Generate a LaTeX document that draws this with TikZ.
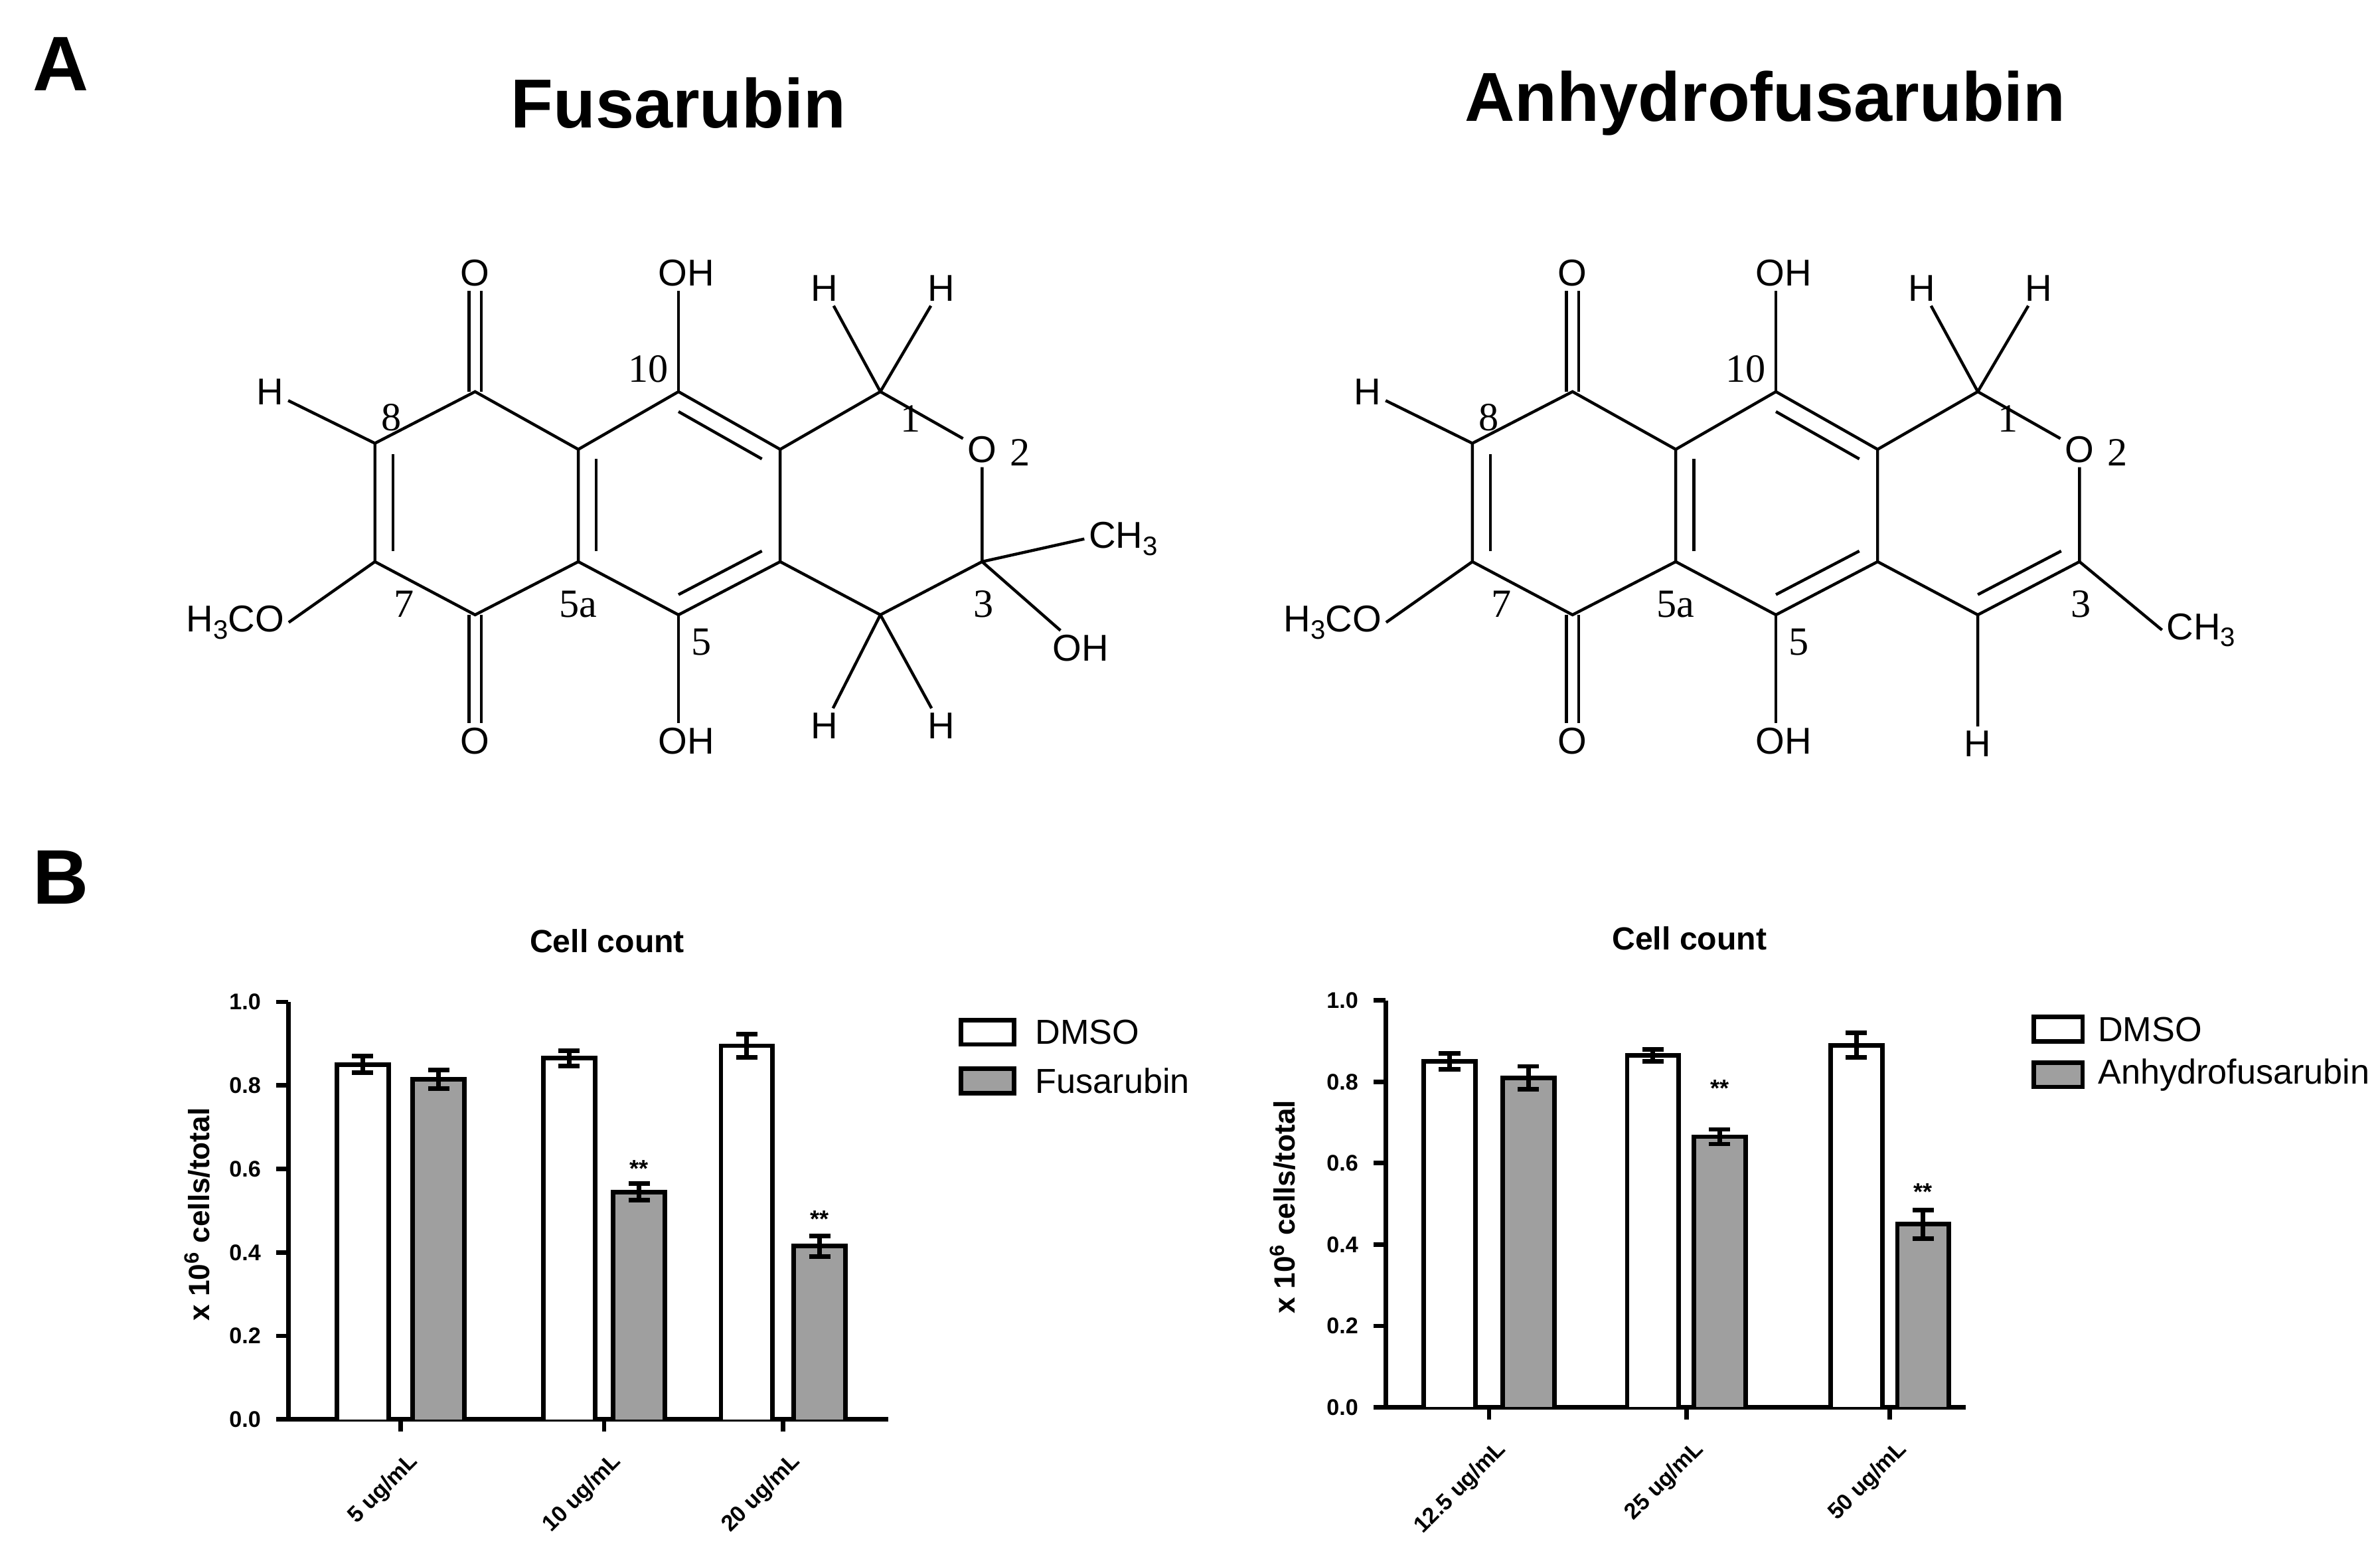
\documentclass[tikz,border=0pt]{standalone}
\usepackage{fontspec}
\setmainfont{Liberation Sans}
\newfontfamily\numf{Liberation Serif}
\usetikzlibrary{calc}
\newcommand\sub[1]{\raisebox{-0.35ex}{\fontsize{10}{10}\selectfont #1}}
\tikzset{
 bond/.style={line width=1.1pt},
 atom/.style={inner sep=1.5pt,font=\fontsize{14}{14}\selectfont},
 num/.style={inner sep=0pt,font=\numf\fontsize{15}{15}\selectfont},
 bar/.style={line width=1.7pt,draw=black},
 axis/.style={line width=1.7pt},
 tick/.style={font=\bfseries\fontsize{8.5}{8.5}\selectfont},
 leg/.style={anchor=west,font=\fontsize{13}{13}\selectfont},
}
\newcommand\chemcore[1]{%
 \coordinate (#1a1) at (313,258); \coordinate (#1a2) at (381,296); \coordinate (#1a3) at (381,370);
 \coordinate (#1a4) at (313,405); \coordinate (#1a5) at (247,370); \coordinate (#1a6) at (247,292);
 \coordinate (#1b1) at (447,258); \coordinate (#1b2) at (514,296); \coordinate (#1b3) at (514,370);
 \coordinate (#1b4) at (447,405);
 \coordinate (#1c1) at (580,258); \coordinate (#1c3) at (647,370); \coordinate (#1c4) at (580,405);
 \coordinate (#1ca) at (313,331); \coordinate (#1cb) at (447,331); \coordinate (#1cc) at (580,331);
 \node[atom] (#1o1) at (313,180) {O}; \node[atom] (#1o4) at (313,488) {O};
 \node[atom] (#1oh1) at (452,180) {OH}; \node[atom] (#1oh4) at (452,488) {OH};
 \node[atom] (#1o2) at (647,296) {O};
 \node[atom] (#1h8) at (178,258) {H};
 \node[atom] (#1meo) at (155,410) {H\sub{3}CO};
 \node[atom] (#1h1a) at (543,190) {H}; \node[atom] (#1h1b) at (620,190) {H};
 \draw[bond] (#1a1)--(#1a2)--(#1a3)--(#1a4)--(#1a5)--(#1a6)--cycle;
 \draw[bond] (#1a2)--(#1b1)--(#1b2)--(#1b3)--(#1b4)--(#1a3);
 \draw[bond] (#1b2)--(#1c1)--(#1o2)--(#1c3)--(#1c4)--(#1b3);
 \draw[bond] ($(#1a5)!0.18!(#1ca)$)--($(#1a6)!0.18!(#1ca)$);
 \draw[bond] ($(#1a2)!0.18!(#1cb)$)--($(#1a3)!0.18!(#1cb)$);
 \draw[bond] ($(#1b1)!0.18!(#1cb)$)--($(#1b2)!0.18!(#1cb)$);
 \draw[bond] ($(#1b3)!0.18!(#1cb)$)--($(#1b4)!0.18!(#1cb)$);
 \draw[bond] ($(#1a1)+(-4,0)$)--($(#1o1.south)+(-4,0)$) ($(#1a1)+(4,0)$)--($(#1o1.south)+(4,0)$);
 \draw[bond] ($(#1a4)+(-4,0)$)--($(#1o4.north)+(-4,0)$) ($(#1a4)+(4,0)$)--($(#1o4.north)+(4,0)$);
 \draw[bond] (#1b1)--(#1b1|-#1oh1.south) (#1b4)--(#1b4|-#1oh4.north);
 \draw[bond] (#1a6)--(#1h8) (#1a5)--(#1meo.east);
 \draw[bond] (#1c1)--(#1h1a) (#1c1)--(#1h1b);
 \node[num] at (258,275) {8}; \node[num] at (266,398) {7};
 \node[num] at (381,398) {5a}; \node[num] at (427,243) {10};
 \node[num] at (462,423) {5}; \node[num] at (600,276) {1};
 \node[num] at (672,298) {2}; \node[num] at (648,398) {3};
}
\begin{document}
\begin{tikzpicture}[x=0.02cm,y=-0.02cm]
\useasboundingbox (0,0) rectangle (1568,1028);
\node[font=\bfseries\fontsize{29}{29}\selectfont] at (40,42) {A};
\node[font=\bfseries\fontsize{29}{29}\selectfont] at (40,578) {B};
\node[font=\bfseries\fontsize{26}{26}\selectfont] at (447,68) {Fusarubin};
\node[font=\bfseries\fontsize{26}{26}\selectfont] at (1163,68) {Anhydrofusarubin};
\begin{scope}
\chemcore{L}
\node[atom] (Lme) at (740,355) {CH\sub{3}};
\node[atom] (Loh3) at (712,427) {OH};
\node[atom] (Lh4a) at (543,478) {H}; \node[atom] (Lh4b) at (620,478) {H};
\draw[bond] (Lc3)--(Lme.west) (Lc3)--(Loh3) (Lc4)--(Lh4a) (Lc4)--(Lh4b);
\end{scope}
\begin{scope}[shift={(723,0)}]
\chemcore{R}
\node[atom] (Rme) at (727,415) {CH\sub{3}};
\node[atom] (Rh4) at (580,490) {H};
\draw[bond] (Rc3)--(Rme.west) (Rc4)--(Rh4);
\draw[bond] ($(Rc3)!0.18!(Rcc)$)--($(Rc4)!0.18!(Rcc)$);
\end{scope}
% ---------- left chart
\node[font=\bfseries\fontsize{12}{12}\selectfont] at (400,620) {Cell count};
\draw[axis] (190,660)--(190,935)--(585,935);
\foreach \v/\l in {0/0.0,0.2/0.2,0.4/0.4,0.6/0.6,0.8/0.8,1/1.0}{
 \draw[axis] (182,935-\v*275)--(190,935-\v*275);
 \node[tick,anchor=east] at (178,935-\v*275) {\l};}
\node[rotate=90,font=\bfseries\fontsize{11}{11}\selectfont] at (130,800) {x 10\textsuperscript{6} cells/total};
\foreach \a/\v/\e/\f in {222/0.85/0.02/white,272/0.815/0.022/gray!75,358/0.865/0.018/white,404/0.545/0.02/gray!75,475/0.895/0.028/white,523/0.415/0.025/gray!75}{
 \draw[bar,fill=\f] (\a,935)--(\a,935-\v*275)--(\a+34,935-\v*275)--(\a+34,935);
 \draw[axis] (\a+17,935-\v*275-\e*275)--(\a+17,935-\v*275+\e*275)
   (\a+10,935-\v*275-\e*275)--(\a+24,935-\v*275-\e*275)
   (\a+10,935-\v*275+\e*275)--(\a+24,935-\v*275+\e*275);}
\node[font=\bfseries\fontsize{9}{9}\selectfont] at (421,770) {**};
\node[font=\bfseries\fontsize{9}{9}\selectfont] at (540,803) {**};
\foreach \c/\l in {264/{5 ug/mL},398/{10 ug/mL},516/{20 ug/mL}}{
 \draw[axis] (\c,935)--(\c,943);
 \node[tick,rotate=45,anchor=north east] at (\c+4,947) {\l};}
\draw[bar] (633,672) rectangle (668,688); \node[leg] at (676,680) {DMSO};
\draw[bar,fill=gray!75] (633,704) rectangle (668,720); \node[leg] at (676,712) {Fusarubin};
% ---------- right chart
\node[font=\bfseries\fontsize{12}{12}\selectfont] at (1113,618) {Cell count};
\draw[axis] (913,659)--(913,927)--(1295,927);
\foreach \v/\l in {0/0.0,0.2/0.2,0.4/0.4,0.6/0.6,0.8/0.8,1/1.0}{
 \draw[axis] (905,927-\v*268)--(913,927-\v*268);
 \node[tick,anchor=east] at (901,927-\v*268) {\l};}
\node[rotate=90,font=\bfseries\fontsize{11}{11}\selectfont] at (845,795) {x 10\textsuperscript{6} cells/total};
\foreach \a/\v/\e/\f in {938/0.85/0.02/white,990/0.81/0.028/gray!75,1072/0.865/0.015/white,1116/0.665/0.018/gray!75,1206/0.89/0.03/white,1250/0.45/0.035/gray!75}{
 \draw[bar,fill=\f] (\a,927)--(\a,927-\v*268)--(\a+34,927-\v*268)--(\a+34,927);
 \draw[axis] (\a+17,927-\v*268-\e*268)--(\a+17,927-\v*268+\e*268)
   (\a+10,927-\v*268-\e*268)--(\a+24,927-\v*268-\e*268)
   (\a+10,927-\v*268+\e*268)--(\a+24,927-\v*268+\e*268);}
\node[font=\bfseries\fontsize{9}{9}\selectfont] at (1133,717) {**};
\node[font=\bfseries\fontsize{9}{9}\selectfont] at (1267,785) {**};
\foreach \c/\l in {981/{12.5 ug/mL},1111/{25 ug/mL},1245/{50 ug/mL}}{
 \draw[axis] (\c,927)--(\c,935);
 \node[tick,rotate=45,anchor=north east] at (\c+4,939) {\l};}
\draw[bar] (1340,670) rectangle (1372,686); \node[leg] at (1376,678) {DMSO};
\draw[bar,fill=gray!75] (1340,700) rectangle (1372,716); \node[leg] at (1376,708) {Anhydrofusarubin};
\end{tikzpicture}
\end{document}
